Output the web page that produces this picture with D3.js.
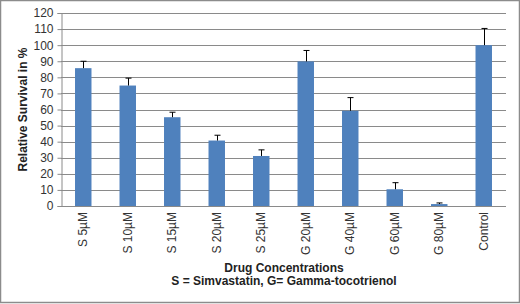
<!DOCTYPE html>
<html>
<head>
<meta charset="utf-8">
<script src="https://cdn.jsdelivr.net/npm/d3@7"></script>
<style>
  body { margin: 0; background: #fff; }
  svg { display: block; font-family: "Liberation Sans", Arial, sans-serif; }
</style>
</head>
<body>
<svg id="chart" width="520" height="304"></svg>
<script>
// values
const categories = ['S 5µM', 'S 10µM', 'S 15µM', 'S 20µM', 'S 25µM', 'G 20µM', 'G 40µM', 'G 60µM', 'G 80µM', 'Control']
const survival = [85.7, 74.9, 55.2, 40.7, 31.1, 89.9, 59.2, 10.4, 1.2, 100]
const errors = [4.3, 4.6, 3.1, 3.3, 3.8, 6.8, 8.2, 4.1, 0.7, 10.4]
const yTicks = [0, 10, 20, 30, 40, 50, 60, 70, 80, 90, 100, 110, 120]

const svg = d3.select('#chart')
const W = 520, H = 304
const m = { left: 61, right: 14, top: 13, bottom: 98 }

// outer frame
svg.append('rect')
  .attr('x', 0.5).attr('y', 0.5)
  .attr('width', W - 1).attr('height', H - 2)
  .attr('fill', '#fff').attr('stroke', '#8c8c8c').attr('stroke-width', 1.5)

const x = d3.scaleBand()
  .domain(categories)
  .range([m.left, W - m.right])
  .paddingInner(0.63).paddingOuter(0.315)

const y = d3.scaleLinear()
  .domain([0, 120])
  .range([H - m.bottom, m.top])

// grid
svg.append('g')
  .selectAll('line')
  .data(yTicks.filter(d => d > 0))
  .join('line')
  .attr('x1', m.left).attr('x2', W - m.right)
  .attr('y1', d => Math.round(y(d)) + 0.5).attr('y2', d => Math.round(y(d)) + 0.5)
  .attr('stroke', '#8a8a8a').attr('stroke-width', 1)

// y axis
const yAxis = svg.append('g')
  .attr('transform', `translate(${m.left + 0.5},0)`)
  .call(d3.axisLeft(y).tickValues(yTicks).tickSize(4).tickPadding(4))
yAxis.select('.domain').attr('stroke', '#8a8a8a')
yAxis.selectAll('.tick line').attr('stroke', '#8a8a8a')
yAxis.selectAll('.tick text')
  .attr('font-size', 12).attr('fill', '#333')
  .attr('font-family', '"Liberation Sans", Arial, sans-serif')

// bars
svg.append('g')
  .selectAll('rect')
  .data(categories)
  .join('rect')
  .attr('x', d => x(d))
  .attr('width', x.bandwidth())
  .attr('y', (d, i) => y(survival[i]))
  .attr('height', (d, i) => y(0) - y(survival[i]))
  .attr('fill', '#4f81bd')

// error bars (upper only)
const eb = svg.append('g').attr('stroke', '#000').attr('stroke-width', 1)
categories.forEach((c, i) => {
  const cx = Math.round(x(c) + x.bandwidth() / 2) + 0.5
  eb.append('line')
    .attr('x1', cx).attr('x2', cx)
    .attr('y1', y(survival[i])).attr('y2', y(survival[i] + errors[i]))
  eb.append('line')
    .attr('x1', cx - 3).attr('x2', cx + 3)
    .attr('y1', y(survival[i] + errors[i])).attr('y2', y(survival[i] + errors[i]))
})

// x axis line
svg.append('line')
  .attr('x1', m.left).attr('x2', W - m.right)
  .attr('y1', Math.round(y(0)) + 0.5).attr('y2', Math.round(y(0)) + 0.5)
  .attr('stroke', '#8a8a8a')

// x labels (rotated)
svg.append('g')
  .selectAll('text')
  .data(categories)
  .join('text')
  .attr('transform', d => `translate(${x(d) + x.bandwidth() / 2 + 4},${y(0) + 6}) rotate(-90)`)
  .attr('text-anchor', 'end')
  .attr('font-size', 12).attr('fill', '#333')
  .text(d => d)

// axis titles
svg.append('text')
  .attr('transform', `translate(27,${(m.top + y(0)) / 2}) rotate(-90)`)
  .attr('text-anchor', 'middle')
  .attr('font-size', 12).attr('font-weight', 'bold').attr('fill', '#222')
  .text('Relative Survival in %')

svg.append('text')
  .attr('x', 284).attr('y', 272)
  .attr('text-anchor', 'middle')
  .attr('font-size', 12).attr('font-weight', 'bold').attr('fill', '#222')
  .text('Drug Concentrations')

svg.append('text')
  .attr('x', 284).attr('y', 285)
  .attr('text-anchor', 'middle')
  .attr('font-size', 12).attr('font-weight', 'bold').attr('fill', '#222')
  .text('S = Simvastatin, G= Gamma-tocotrienol')
</script>
</body>
</html>
